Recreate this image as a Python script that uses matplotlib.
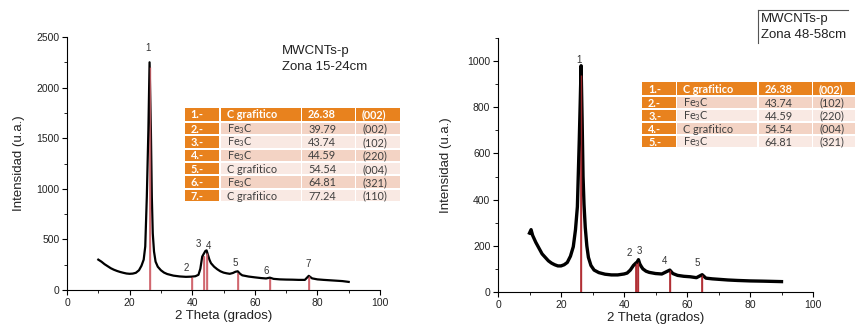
import matplotlib
matplotlib.use("Agg")
import matplotlib.pyplot as plt
from matplotlib.patches import Rectangle
from matplotlib.lines import Line2D
from matplotlib.ticker import MultipleLocator

plt.rcParams["font.family"] = ["Liberation Sans", "DejaVu Sans"]
plt.rcParams["mathtext.fontset"] = "custom"
plt.rcParams["mathtext.rm"] = "Lato"
plt.rcParams["mathtext.it"] = "Lato"
plt.rcParams["mathtext.bf"] = "Lato:bold"

W, H = 855, 331

# ---------------- Sample 15-24 cm ----------------
left_x = [10, 11, 12, 13, 14, 15, 16, 17, 18, 19, 20, 21, 22, 23, 23.8, 24.5,
          25.0, 25.5, 26.0, 26.38, 26.8, 27.1, 27.4, 27.8, 28.3, 29, 30, 31, 32,
          34, 36, 38, 39.79, 41, 42, 42.6, 43.2, 43.74, 44.2, 44.59, 45, 45.5,
          46, 47, 48, 49, 50, 51, 52, 53, 53.8, 54.54, 55.3, 56, 58, 60, 62,
          63.6, 64.81, 66, 68, 70, 72, 74, 76, 77.24, 78.3, 80, 82, 84, 86, 88, 90]
left_y = [300, 280, 255, 235, 215, 200, 188, 178, 170, 163, 160, 162, 170, 195, 240, 300,
          430, 920, 1580, 2250, 1580, 920, 560, 380, 280, 230, 195, 172, 158,
          142, 134, 130, 132, 136, 150, 210, 330, 360, 385, 392, 350, 300,
          265, 230, 205, 185, 172, 165, 160, 168, 180, 185, 160, 145, 133, 125, 118,
          114, 122, 110, 105, 103, 102, 100, 100, 140, 115, 105, 100, 96, 92, 88, 80]

left_peak_num = ["1", "2", "3", "4", "5", "6", "7"]
left_phase = ["C grafitico", "Fe$_3$C", "Fe$_3$C", "Fe$_3$C", "C grafitico", "Fe$_3$C", "C grafitico"]
left_theta = [26.38, 39.79, 43.74, 44.59, 54.54, 64.81, 77.24]
left_hkl = ["(002)", "(002)", "(102)", "(220)", "(004)", "(321)", "(110)"]
left_line_h = [2200, 130, 340, 370, 165, 110, 135]
left_lab_x = [26.0, 38.1, 42.1, 45.3, 53.8, 63.7, 77.1]
left_lab_y = [2390, 215, 450, 432, 262, 190, 252]

# ---------------- Sample 48-58 cm ----------------
right_x = [10, 10.5, 11, 12, 13, 14, 15, 16, 17, 18, 19, 20, 21, 22, 23, 23.9,
           24.6, 25.2, 25.8, 26.1, 26.38, 26.7, 27.0, 27.3, 27.7, 28.2, 28.7, 29.5,
           30.5, 32, 34, 36, 38, 40, 41, 42, 43, 43.74, 44.2, 44.59, 45, 45.5, 46,
           47, 48, 50, 52, 53.5, 54.54, 55.5, 57, 59, 61, 63, 64.81, 66, 68, 70,
           73, 76, 80, 84, 87, 90]
right_y = [255, 270, 245, 215, 190, 165, 150, 135, 125, 118, 113, 113, 118, 128, 155, 196,
           270, 369, 658, 820, 980, 750, 500, 380, 280, 200, 150, 115,
           95, 84, 77, 74, 74, 78, 82, 95, 115, 125, 130, 140, 122, 110, 100,
           90, 85, 80, 78, 88, 95, 80, 72, 68, 66, 62, 75, 60, 57, 55,
           52, 50, 48, 47, 46, 45]

right_peak_num = ["1", "2", "3", "4", "5"]
right_phase = ["C grafitico", "Fe$_3$C", "Fe$_3$C", "C grafitico", "Fe$_3$C"]
right_theta = [26.38, 43.74, 44.59, 54.54, 64.81]
right_hkl = ["(002)", "(102)", "(220)", "(004)", "(321)"]
right_line_h = [940, 125, 130, 95, 75]
right_lab_x = [25.7, 41.6, 44.9, 52.9, 63.2]
right_lab_y = [1005, 167, 179, 134, 124]

ORANGE = "#E8821E"
ROW_DARK = "#F3D3C4"
ROW_LIGHT = "#F9E9E3"
CELL_TXT = "#3F3F3F"

fig = plt.figure(figsize=(W / 100, H / 100), dpi=100)


def fx(x):
    return x / W


def fy(y):
    return 1 - y / H


def make_axes(x0, x1, ytop, ybot):
    return fig.add_axes([fx(x0), fy(ybot), fx(x1) - fx(x0), fy(ytop) - fy(ybot)])


def style_axes(ax, ymax, ymajor, yminor, ylabelpad):
    ax.set_xlim(0, 100)
    ax.set_ylim(0, ymax)
    for s in ("top", "right"):
        ax.spines[s].set_visible(False)
    for s in ("left", "bottom"):
        ax.spines[s].set_linewidth(0.8)
    ax.xaxis.set_major_locator(MultipleLocator(20))
    ax.xaxis.set_minor_locator(MultipleLocator(10))
    ax.yaxis.set_major_locator(MultipleLocator(ymajor))
    ax.yaxis.set_minor_locator(MultipleLocator(yminor))
    ax.tick_params(which="major", direction="out", length=3.5, width=0.8,
                   labelsize=7.5, pad=2, labelcolor="#222222")
    ax.tick_params(which="minor", direction="out", length=2, width=0.6)
    ax.set_xlabel("2 Theta (grados)", fontsize=9.5, labelpad=2, color="#222222")
    ax.set_ylabel("Intensidad (u.a.)", fontsize=9.5, labelpad=ylabelpad, color="#222222")
    ax.set_facecolor("none")


def draw_pattern(ax, xs, ys, theta, heights, nums, lab_x, lab_y, red, lw):
    ax.vlines(theta, 0, heights, colors=red, linewidth=1.2, zorder=2)
    ax.plot(xs, ys, color="black", linewidth=lw, solid_joinstyle="round", zorder=3)
    ax.vlines(theta, 0, heights, colors=red, linewidth=1.0, alpha=0.85, zorder=4)
    for n, x, y in zip(nums, lab_x, lab_y):
        ax.text(x, y, n, fontsize=7, ha="center", va="center", color="#333333", zorder=5)


def draw_table(x_cols, y_top, row_h, nums, phases, thetas, hkls, font):
    n = len(nums)
    gap = 1.2
    for r in range(n):
        top = y_top + r * row_h + (1.5 if r > 0 else 0)
        bot = y_top + (r + 1) * row_h
        header = r == 0
        fill = ORANGE if header else (ROW_DARK if r % 2 == 1 else ROW_LIGHT)
        texts = [nums[r] + ".-", phases[r], f"{thetas[r]:.2f}", hkls[r]]
        for c in range(4):
            xl = x_cols[c] + gap / 2
            xr = x_cols[c + 1] - gap / 2
            col = ORANGE if (header or c == 0) else fill
            fig.add_artist(Rectangle((fx(xl), fy(bot - gap / 2)), fx(xr) - fx(xl),
                                     fy(top) - fy(bot - gap / 2),
                                     transform=fig.transFigure, facecolor=col,
                                     edgecolor="none", zorder=5))
            white = header or c == 0
            fig.text(fx(xl + 6), fy((top + bot) / 2 + 0.3), texts[c],
                     fontsize=font, family="Lato", ha="left", va="center",
                     color="white" if white else CELL_TXT,
                     fontweight="bold" if white else "normal", zorder=6)


# ---------- left panel ----------
axL = make_axes(67, 380, 37, 290)
style_axes(axL, 2500, 500, 250, 8)
draw_pattern(axL, left_x, left_y, left_theta, left_line_h, left_peak_num,
             left_lab_x, left_lab_y, "#D0646C", 1.6)
fig.text(fx(282), fy(51), "MWCNTs-p", fontsize=9.5, ha="left", va="center", color="#222222")
fig.text(fx(282), fy(67), "Zona 15-24cm", fontsize=9.5, ha="left", va="center", color="#222222")
draw_table([184, 220, 301.5, 355.5, 401], 108, 13.4,
           left_peak_num, left_phase, left_theta, left_hkl, 7.8)

# ---------- right panel ----------
axR = make_axes(498, 813, 38, 292)
style_axes(axR, 1100, 200, 100, 11)
draw_pattern(axR, right_x, right_y, right_theta, right_line_h, right_peak_num,
             right_lab_x, right_lab_y, "#B02A30", 2.4)
fig.add_artist(Line2D([fx(758), fx(758)], [fy(10), fy(43)], transform=fig.transFigure,
                      color="#555555", linewidth=0.8))
fig.add_artist(Line2D([fx(758), fx(848)], [fy(10), fy(10)], transform=fig.transFigure,
                      color="#555555", linewidth=0.8))
fig.text(fx(761), fy(19), "MWCNTs-p", fontsize=9.5, ha="left", va="center", color="#222222")
fig.text(fx(761), fy(35), "Zona 48-58cm", fontsize=9.5, ha="left", va="center", color="#222222")
draw_table([641.5, 676.5, 758, 812.5, 856], 82.5, 13.0,
           right_peak_num, right_phase, right_theta, right_hkl, 7.8)

fig.savefig("out.png", dpi=100, facecolor="white")
